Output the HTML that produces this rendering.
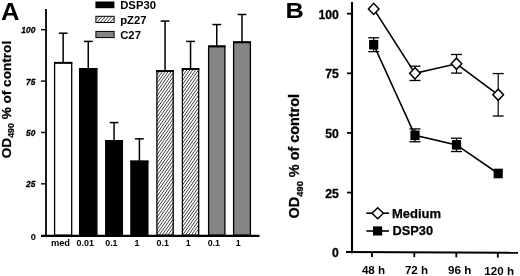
<!DOCTYPE html>
<html><head><meta charset="utf-8"><title>Figure</title>
<style>
html,body{margin:0;padding:0;background:#fff;}
body{width:520px;height:276px;overflow:hidden;}
svg{display:block;will-change:transform;}
text{font-family:"Liberation Sans",Arial,Helvetica,sans-serif;font-weight:bold;fill:#000;}
</style></head><body>
<svg width="520" height="276" viewBox="0 0 520 276">
<defs>
<pattern id="hatch" width="2.4" height="2.4" patternUnits="userSpaceOnUse" patternTransform="rotate(-55)">
<rect width="2.4" height="2.4" fill="#fff"/>
<line x1="0" y1="1.2" x2="2.4" y2="1.2" stroke="#333" stroke-width="0.78"/>
</pattern>
<pattern id="hatch2" width="2.5" height="2.5" patternUnits="userSpaceOnUse" patternTransform="rotate(-50)">
<rect width="2.5" height="2.5" fill="#fff"/>
<line x1="0" y1="1.25" x2="2.5" y2="1.25" stroke="#333" stroke-width="0.75"/>
</pattern>
</defs>
<rect width="520" height="276" fill="#fff"/>

<text transform="translate(0.9,19.6) scale(1.1,1)" font-size="23.3">A</text>
<line x1="63.15" y1="62.58" x2="63.15" y2="33.19" stroke="#000" stroke-width="1.5"/>
<line x1="58.75" y1="33.19" x2="67.55" y2="33.19" stroke="#000" stroke-width="1.5"/>
<rect x="54.60" y="62.58" width="17.10" height="172.62" fill="#fff" stroke="#000" stroke-width="1.3"/>
<line x1="54.00" y1="62.88" x2="72.30" y2="62.88" stroke="#000" stroke-width="1.9"/>
<line x1="88.25" y1="68.74" x2="88.25" y2="41.41" stroke="#000" stroke-width="1.5"/>
<line x1="83.85" y1="41.41" x2="92.65" y2="41.41" stroke="#000" stroke-width="1.5"/>
<rect x="79.60" y="68.74" width="17.30" height="166.46" fill="#000" stroke="#000" stroke-width="1.3"/>
<line x1="79.00" y1="69.04" x2="97.50" y2="69.04" stroke="#000" stroke-width="1.9"/>
<line x1="114.05" y1="140.67" x2="114.05" y2="122.59" stroke="#000" stroke-width="1.5"/>
<line x1="109.65" y1="122.59" x2="118.45" y2="122.59" stroke="#000" stroke-width="1.5"/>
<rect x="105.70" y="140.67" width="16.70" height="94.53" fill="#000" stroke="#000" stroke-width="1.3"/>
<line x1="105.10" y1="140.97" x2="123.00" y2="140.97" stroke="#000" stroke-width="1.9"/>
<line x1="139.40" y1="161.22" x2="139.40" y2="138.82" stroke="#000" stroke-width="1.5"/>
<line x1="135.00" y1="138.82" x2="143.80" y2="138.82" stroke="#000" stroke-width="1.5"/>
<rect x="130.90" y="161.22" width="17.00" height="73.98" fill="#000" stroke="#000" stroke-width="1.3"/>
<line x1="130.30" y1="161.52" x2="148.50" y2="161.52" stroke="#000" stroke-width="1.9"/>
<line x1="165.05" y1="70.80" x2="165.05" y2="21.07" stroke="#000" stroke-width="1.5"/>
<line x1="160.65" y1="21.07" x2="169.45" y2="21.07" stroke="#000" stroke-width="1.5"/>
<rect x="156.90" y="70.80" width="16.30" height="164.40" fill="url(#hatch)" stroke="#000" stroke-width="1.3"/>
<line x1="156.30" y1="71.10" x2="173.80" y2="71.10" stroke="#000" stroke-width="1.9"/>
<line x1="190.55" y1="68.74" x2="190.55" y2="41.41" stroke="#000" stroke-width="1.5"/>
<line x1="186.15" y1="41.41" x2="194.95" y2="41.41" stroke="#000" stroke-width="1.5"/>
<rect x="182.40" y="68.74" width="16.30" height="166.46" fill="url(#hatch)" stroke="#000" stroke-width="1.3"/>
<line x1="181.80" y1="69.04" x2="199.30" y2="69.04" stroke="#000" stroke-width="1.9"/>
<line x1="216.75" y1="46.14" x2="216.75" y2="24.56" stroke="#000" stroke-width="1.5"/>
<line x1="212.35" y1="24.56" x2="221.15" y2="24.56" stroke="#000" stroke-width="1.5"/>
<rect x="208.60" y="46.14" width="16.30" height="189.06" fill="#858585" stroke="#000" stroke-width="1.3"/>
<line x1="208.00" y1="46.44" x2="225.50" y2="46.44" stroke="#000" stroke-width="1.9"/>
<line x1="242.00" y1="42.03" x2="242.00" y2="14.49" stroke="#000" stroke-width="1.5"/>
<line x1="237.60" y1="14.49" x2="246.40" y2="14.49" stroke="#000" stroke-width="1.5"/>
<rect x="233.60" y="42.03" width="16.80" height="193.17" fill="#858585" stroke="#000" stroke-width="1.3"/>
<line x1="233.00" y1="42.33" x2="251.00" y2="42.33" stroke="#000" stroke-width="1.9"/>
<line x1="46" y1="9" x2="46" y2="236.20" stroke="#000" stroke-width="1.8"/>
<line x1="41" y1="235.90" x2="259.5" y2="235.90" stroke="#000" stroke-width="2.3"/>
<line x1="41" y1="183.82" x2="46" y2="183.82" stroke="#000" stroke-width="1.4"/>
<line x1="41" y1="132.45" x2="46" y2="132.45" stroke="#000" stroke-width="1.4"/>
<line x1="41" y1="81.07" x2="46" y2="81.07" stroke="#000" stroke-width="1.4"/>
<line x1="41" y1="29.70" x2="46" y2="29.70" stroke="#000" stroke-width="1.4"/>
<text x="35.8" y="239.50" font-size="9.3" text-anchor="end">0</text>
<text transform="translate(35.3,187.42) scale(0.9,1)" font-size="9.3" font-style="italic" stroke="#000" stroke-width="0.3" text-anchor="end">25</text>
<text transform="translate(35.3,136.05) scale(0.9,1)" font-size="9.3" font-style="italic" stroke="#000" stroke-width="0.3" text-anchor="end">50</text>
<text transform="translate(35.3,84.67) scale(0.9,1)" font-size="9.3" font-style="italic" stroke="#000" stroke-width="0.3" text-anchor="end">75</text>
<text transform="translate(35.3,33.30) scale(0.9,1)" font-size="9.3" font-style="italic" stroke="#000" stroke-width="0.3" text-anchor="end">100</text>
<text x="60.5" y="246.3" font-size="9.3" text-anchor="middle">med</text>
<text x="85.2" y="246.3" font-size="8.9" text-anchor="middle">0.01</text>
<text x="111.4" y="246.3" font-size="8.9" text-anchor="middle">0.1</text>
<text x="137" y="246.3" font-size="8.9" text-anchor="middle">1</text>
<text x="162.7" y="246.3" font-size="8.9" text-anchor="middle">0.1</text>
<text x="188.3" y="246.3" font-size="8.9" text-anchor="middle">1</text>
<text x="213.8" y="246.3" font-size="8.9" text-anchor="middle">0.1</text>
<text x="238.1" y="246.3" font-size="8.9" text-anchor="middle">1</text>
<text transform="translate(10.6,99.5) rotate(-90)" font-size="13.6" stroke="#000" stroke-width="0.25" text-anchor="middle">OD<tspan font-size="8.8" dy="3">490</tspan><tspan dy="-3"> % of control</tspan></text>
<rect x="95.4" y="1.5" width="19" height="6.7" fill="#000"/>
<rect x="95.9" y="16.3" width="18.2" height="6.2" fill="url(#hatch2)" stroke="#000" stroke-width="1"/>
<rect x="95.9" y="31.4" width="18.2" height="6.2" fill="#858585" stroke="#000" stroke-width="1"/>
<text x="120.2" y="9.2" font-size="11.3">DSP30</text>
<text x="120.2" y="23.9" font-size="11.3">pZ27</text>
<text x="120.2" y="38.6" font-size="11.3">C27</text>
<text transform="translate(285.6,18.4) scale(1.17,1)" font-size="21.7">B</text>
<line x1="352" y1="2" x2="352" y2="253.20" stroke="#000" stroke-width="2.1"/>
<line x1="346" y1="251.95" x2="518" y2="252.75" stroke="#000" stroke-width="2.1"/>
<line x1="347" y1="192.57" x2="352" y2="192.57" stroke="#000" stroke-width="1.8"/>
<line x1="347" y1="132.95" x2="352" y2="132.95" stroke="#000" stroke-width="1.8"/>
<line x1="347" y1="73.33" x2="352" y2="73.33" stroke="#000" stroke-width="1.8"/>
<line x1="347" y1="13.70" x2="352" y2="13.70" stroke="#000" stroke-width="1.8"/>
<text x="338.8" y="257.30" font-size="12.2" stroke="#000" stroke-width="0.3" text-anchor="end">0</text>
<text x="338.8" y="197.67" font-size="12.2" stroke="#000" stroke-width="0.3" text-anchor="end">25</text>
<text x="338.8" y="138.05" font-size="12.2" stroke="#000" stroke-width="0.3" text-anchor="end">50</text>
<text x="338.8" y="78.43" font-size="12.2" stroke="#000" stroke-width="0.3" text-anchor="end">75</text>
<text x="338.8" y="18.80" font-size="12.2" stroke="#000" stroke-width="0.3" text-anchor="end">100</text>
<line x1="371.9" y1="252.2" x2="371.9" y2="256.90" stroke="#000" stroke-width="1.8"/>
<text x="373.5" y="274.0" font-size="11.6" text-anchor="middle">48 h</text>
<line x1="414.3" y1="252.2" x2="414.3" y2="257.10" stroke="#000" stroke-width="1.8"/>
<text x="416.5" y="274.2" font-size="11.6" text-anchor="middle">72 h</text>
<line x1="456.3" y1="252.2" x2="456.3" y2="257.30" stroke="#000" stroke-width="1.8"/>
<text x="459.7" y="274.4" font-size="11.6" text-anchor="middle">96 h</text>
<line x1="497.8" y1="252.2" x2="497.8" y2="257.60" stroke="#000" stroke-width="1.8"/>
<text x="499.2" y="274.7" font-size="11.6" text-anchor="middle">120 h</text>
<polyline points="373.70,8.93 415.00,73.33 456.50,63.78 498.20,94.79" fill="none" stroke="#000" stroke-width="1.6"/>
<polyline points="373.70,44.71 415.00,135.33 456.50,144.88 498.20,173.50" fill="none" stroke="#000" stroke-width="1.6"/>
<polygon points="368.4,8.93 373.7,3.33 379.0,8.93 373.7,14.53" fill="#fff" stroke="#000" stroke-width="1.5"/>
<line x1="415" y1="66.17" x2="415" y2="80.48" stroke="#000" stroke-width="1.2"/>
<line x1="409.5" y1="66.17" x2="420.5" y2="66.17" stroke="#000" stroke-width="1.3"/>
<line x1="409.5" y1="80.48" x2="420.5" y2="80.48" stroke="#000" stroke-width="1.3"/>
<polygon points="409.7,73.33 415,67.73 420.3,73.33 415,78.93" fill="#fff" stroke="#000" stroke-width="1.5"/>
<line x1="456.5" y1="54.48" x2="456.5" y2="73.09" stroke="#000" stroke-width="1.2"/>
<line x1="451.0" y1="54.48" x2="462.0" y2="54.48" stroke="#000" stroke-width="1.3"/>
<line x1="451.0" y1="73.09" x2="462.0" y2="73.09" stroke="#000" stroke-width="1.3"/>
<polygon points="451.2,63.78 456.5,58.19 461.8,63.78 456.5,69.38" fill="#fff" stroke="#000" stroke-width="1.5"/>
<line x1="498.2" y1="73.56" x2="498.2" y2="116.02" stroke="#000" stroke-width="1.2"/>
<line x1="492.7" y1="73.56" x2="503.7" y2="73.56" stroke="#000" stroke-width="1.3"/>
<line x1="492.7" y1="116.02" x2="503.7" y2="116.02" stroke="#000" stroke-width="1.3"/>
<polygon points="492.9,94.79 498.2,89.19 503.5,94.79 498.2,100.39" fill="#fff" stroke="#000" stroke-width="1.5"/>
<line x1="373.7" y1="37.79" x2="373.7" y2="51.62" stroke="#000" stroke-width="1.2"/>
<line x1="368.2" y1="37.79" x2="379.2" y2="37.79" stroke="#000" stroke-width="1.3"/>
<line x1="368.2" y1="51.62" x2="379.2" y2="51.62" stroke="#000" stroke-width="1.3"/>
<rect x="369.09999999999997" y="39.91" width="9.2" height="9.6" fill="#000"/>
<line x1="415" y1="128.90" x2="415" y2="141.77" stroke="#000" stroke-width="1.2"/>
<line x1="409.5" y1="128.90" x2="420.5" y2="128.90" stroke="#000" stroke-width="1.3"/>
<line x1="409.5" y1="141.77" x2="420.5" y2="141.77" stroke="#000" stroke-width="1.3"/>
<rect x="410.4" y="130.53" width="9.2" height="9.6" fill="#000"/>
<line x1="456.5" y1="138.20" x2="456.5" y2="151.55" stroke="#000" stroke-width="1.2"/>
<line x1="451.0" y1="138.20" x2="462.0" y2="138.20" stroke="#000" stroke-width="1.3"/>
<line x1="451.0" y1="151.55" x2="462.0" y2="151.55" stroke="#000" stroke-width="1.3"/>
<rect x="451.9" y="140.07" width="9.2" height="9.6" fill="#000"/>
<rect x="493.59999999999997" y="168.69" width="9.2" height="9.6" fill="#000"/>
<line x1="366.4" y1="213.2" x2="389" y2="213.2" stroke="#000" stroke-width="1.6"/>
<polygon points="372,213.2 377.7,207.7 383.4,213.2 377.7,218.7" fill="#fff" stroke="#000" stroke-width="1.5"/>
<line x1="366.4" y1="231" x2="389" y2="231" stroke="#000" stroke-width="1.6"/>
<rect x="373" y="226.4" width="9.2" height="9.1" fill="#000"/>
<text x="391.9" y="218.2" font-size="13" stroke="#000" stroke-width="0.25">Medium</text>
<text x="392.5" y="235.0" font-size="12.8" stroke="#000" stroke-width="0.25">DSP30</text>
<text transform="translate(299.3,156.2) rotate(-90)" font-size="14.4" stroke="#000" stroke-width="0.3" text-anchor="middle">OD<tspan font-size="9.4" dy="3.2">490</tspan><tspan dy="-3.2"> % of control</tspan></text>
</svg></body></html>
